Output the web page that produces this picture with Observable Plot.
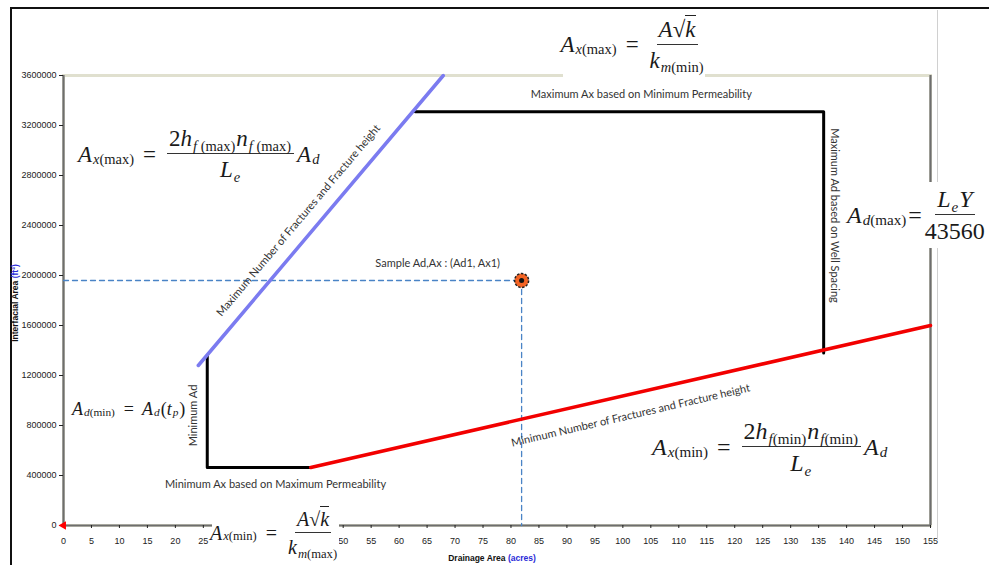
<!DOCTYPE html>
<html>
<head>
<meta charset="utf-8">
<script src="https://cdn.jsdelivr.net/npm/d3@7"></script>
<script src="https://cdn.jsdelivr.net/npm/@observablehq/plot@0.6"></script>
<style>
  html, body { margin: 0; padding: 0; background: #fff; }
  #wrap { position: relative; width: 989px; height: 565px; overflow: hidden; background: #fff; }
  #wrap svg { position: absolute; left: 0; top: 0; }
  .f { position: absolute; font-family: "Liberation Serif", "DejaVu Serif", serif; color: #1a1a1a;
       display: flex; align-items: center; white-space: nowrap; line-height: 1; }
  .f i { font-style: italic; }
  .sb { font-size: 0.63em; position: relative; top: 0.34em; margin: 0 1px 0 1px; }
  .frac { display: inline-flex; flex-direction: column; align-items: center; margin: 0 3px; }
  .frac .n { border-bottom: 1.4px solid #333; padding: 0 2px 3px; }
  .frac .d { padding-top: 4px; }
  .eq { margin: 0 8px; }
  .ov { border-top: 1.2px solid #222; padding-top: 1px; }
  .bg { background: #fff; justify-content: center; }
  .axl { position: absolute; font-family: "Liberation Sans Narrow", "Liberation Sans", Arial, sans-serif;
         font-weight: bold; font-size: 8.5px; color: #111; white-space: nowrap;
         transform: translate(-50%, -50%); }
  .axl .u { color: #2b2bd8; }
</style>
</head>
<body>
<div id="wrap"></div>
<script>
// ---- data ----
const xTicks = [0,5,10,15,20,25,30,35,40,45,50,55,60,65,70,75,80,85,90,95,100,105,110,115,120,125,130,135,140,145,150,155];
const xTicksHidden = [30,35,40,45]; // covered by the bottom formula in the reference
const yTicks = [0,400000,800000,1200000,1600000,2000000,2400000,2800000,3200000,3600000];

const maxFracAd = [24.1, 67.9];
const maxFracAx = [1280000, 3600000];
const minFracAd = [44.2, 155];
const minFracAx = [464000, 1600000];
const lowerBoundAd = [25.7, 25.7, 44.2];
const lowerBoundAx = [1360000, 464000, 464000];
const upperBoundAd = [62.9, 135.9, 135.9];
const upperBoundAx = [3310000, 3310000, 1380000];
const sampleAd = [81.9];
const sampleAx = [1960000];

const noteText = [
  "Maximum Ax based on Minimum Permeability",
  "Maximum Ad based on Well Spacing",
  "Minimum Ad",
  "Minimum Ax based on Maximum Permeability",
  "Maximum Number of Fractures and Fracture height",
  "Minimum Number of Fractures and Fracture height",
  "Sample Ad,Ax : (Ad1, Ax1)"
];
const noteAd = [103.3, 137.8, 23.2, 37.9, 42.0, 101.4, 66.9];
const noteAx = [3448000, 2480000, 880000, 328000, 2440000, 880000, 2096000];
const noteAngle = [0, 90, -90, 0, -49.8, -13.1, 0];

// ---- build tables ----
const pts = (xs, ys) => xs.map((x, i) => ({x, y: ys[i]}));
const notes = noteText.map((t, i) => ({text: t, x: noteAd[i], y: noteAx[i], r: noteAngle[i]}));
const sample = pts(sampleAd, sampleAx);
const hDash = [{x: 0, y: sampleAx[0]}, {x: sampleAd[0], y: sampleAx[0]}];
const vDash = [{x: sampleAd[0], y: sampleAx[0]}, {x: sampleAd[0], y: 0}];
const shownXTicks = xTicks.filter(t => !xTicksHidden.includes(t));

const chart = Plot.plot({
  width: 989,
  height: 565,
  marginLeft: 63,
  marginRight: 59,
  marginTop: 75,
  marginBottom: 40,
  style: {fontFamily: '"Liberation Sans Narrow", "Liberation Sans", Arial, sans-serif', fontSize: "9px", color: "#222", background: "transparent"},
  x: {domain: [0, 155]},
  y: {domain: [0, 3600000]},
  marks: [
    Plot.frame({stroke: "#e0e0cf", strokeWidth: 3}),
    Plot.ruleX([0, 155], {stroke: "#6e6e6e", strokeWidth: 2.2}),
    Plot.ruleY([0], {stroke: "#6e6e6e", strokeWidth: 2.2}),
    Plot.axisY({ticks: yTicks, tickFormat: d3.format("d"), tickSize: 4, tickPadding: 3, label: null}),
    Plot.axisX({ticks: shownXTicks, tickFormat: d3.format("d"), tickSize: 3, tickPadding: 9, label: null}),
    Plot.line(hDash, {x: "x", y: "y", stroke: "#4a84c6", strokeWidth: 1.3, strokeDasharray: "5,4"}),
    Plot.line(vDash, {x: "x", y: "y", stroke: "#4a84c6", strokeWidth: 1.3, strokeDasharray: "5,4"}),
    Plot.line(pts(lowerBoundAd, lowerBoundAx), {x: "x", y: "y", stroke: "#000", strokeWidth: 3}),
    Plot.line(pts(upperBoundAd, upperBoundAx), {x: "x", y: "y", stroke: "#000", strokeWidth: 3}),
    Plot.line(pts(maxFracAd, maxFracAx), {x: "x", y: "y", stroke: "#7b7bf0", strokeWidth: 3.5}),
    Plot.line(pts(minFracAd, minFracAx), {x: "x", y: "y", stroke: "#f20000", strokeWidth: 3.5}),
    Plot.dot(sample, {x: "x", y: "y", r: 7, fill: "#f46424", stroke: "#222", strokeWidth: 1.5, strokeDasharray: "2.5,1.5"}),
    Plot.dot(sample, {x: "x", y: "y", r: 2.5, fill: "#111"}),
    Plot.dot([{x: 0, y: 0}], {x: "x", y: "y", r: 2.2, symbol: "triangle", rotate: -90, fill: "#f00", stroke: "#f00"}),
    Plot.text(notes, {x: "x", y: "y", text: "text", rotate: "r", fontSize: 11, fontFamily: "Lato, 'Open Sans', sans-serif", fill: "#333"})
  ]
});

const wrap = document.getElementById("wrap");
wrap.appendChild(chart);

// outer frame lines
const frame = document.createElement("div");
frame.style.cssText = "position:absolute;left:10px;top:7px;width:990px;height:570px;border-left:2px solid #111;border-top:2px solid #111;pointer-events:none;";
wrap.appendChild(frame);
const vline = document.createElement("div");
vline.style.cssText = "position:absolute;left:937px;top:10px;width:1px;height:530px;background:#d0d0d0;";
wrap.appendChild(vline);

// formulas
function addHTML(html, css, cls) {
  const d = document.createElement("div");
  d.className = cls || "f";
  d.style.cssText = css;
  d.innerHTML = html;
  wrap.appendChild(d);
  return d;
}
const A = (sub) => `<i>A</i><span class="sb">${sub}</span>`;
const frac = (n, d) => `<span class="frac"><span class="n">${n}</span><span class="d">${d}</span></span>`;
const sqrtk = `<i>A</i>&#8730;<span class="ov"><i>k</i></span>`;

addHTML(`${A('<i>x</i>(max)')}<span class="eq">=</span>${frac(sqrtk, '<i>k</i><span class="sb"><i>m</i>(min)</span>')}`,
  "left:563px;top:11px;width:142px;height:67px;font-size:23px;", "f bg");

addHTML(`${A('<i>d</i>(max)')}<span style="margin:0 0 0 1px">=</span>${frac('<i>L</i><span class="sb"><i>e</i></span><i>Y</i>', '43560')}`,
  "left:845px;top:182px;width:150px;height:66px;font-size:24px;justify-content:flex-start;padding-left:2px;", "f bg");

addHTML(`${A('<i>x</i>(max)')}<span class="eq">=</span>${frac('2<i>h</i><span class="sb"><i>f</i> (max)</span><i>n</i><span class="sb"><i>f</i> (max)</span>', '<i>L</i><span class="sb"><i>e</i></span>')}<i>A</i><span class="sb"><i>d</i></span>`,
  "left:78px;top:127px;font-size:23px;");

addHTML(`${A('<i>d</i>(min)')}<span class="eq">=</span><i>A</i><span class="sb"><i>d</i></span>(<i>t</i><span class="sb"><i>p</i></span>)`,
  "left:72px;top:400px;font-size:18px;");

addHTML(`${A('<i>x</i>(min)')}<span class="eq">=</span>${frac('2<i>h</i><span class="sb"><i>f</i>(min)</span><i>n</i><span class="sb"><i>f</i>(min)</span>', '<i>L</i><span class="sb"><i>e</i></span>')}<i>A</i><span class="sb"><i>d</i></span>`,
  "left:652px;top:419px;font-size:24px;");

addHTML(`${A('<i>x</i>(min)')}<span class="eq">=</span>${frac(sqrtk, '<i>k</i><span class="sb"><i>m</i>(max)</span>')}`,
  "left:212px;top:500px;width:127px;height:65px;font-size:20px;", "f bg");

// axis titles
addHTML('Interfacial Area <span class="u">(ft²)</span>', "left:15px;top:303px;transform:translate(-50%,-50%) rotate(-90deg);", "axl");
addHTML('Drainage Area <span class="u">(acres)</span>', "left:492px;top:558px;", "axl");
</script>
</body>
</html>
